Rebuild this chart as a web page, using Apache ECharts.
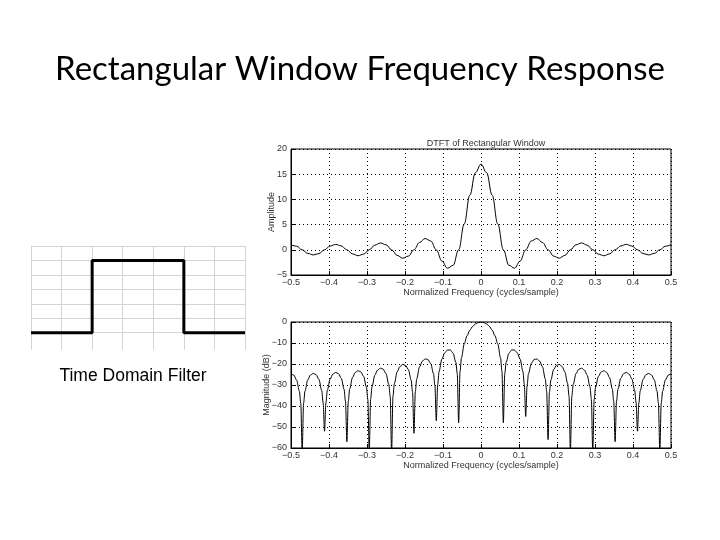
<!DOCTYPE html>
<html>
<head>
<meta charset="utf-8">
<script src="https://cdn.jsdelivr.net/npm/echarts@6/dist/echarts.min.js"></script>
<style>
html,body{margin:0;padding:0;background:#fff;}
#chart{width:720px;height:540px;}
</style>
</head>
<body>
<div id="chart"></div>
<script>
// ---- Time domain filter (rectangular pulse) ----
var timeX = [0, 2, 2, 5, 5, 7];
var timeY = [0, 0, 5, 5, 0, 0];
var timeGridRows = [0, 1, 2, 3, 4, 5, 6];

// ---- DTFT amplitude (top plot) ----
var ampFreq = [-0.5, -0.48529, -0.47059, -0.45588, -0.44118, -0.42647, -0.41176, -0.39706, -0.38235, -0.36765,
  -0.35294, -0.33824, -0.32353, -0.30882, -0.29412, -0.27941, -0.26471, -0.25, -0.23529, -0.22059,
  -0.20588, -0.19118, -0.17647, -0.16176, -0.14706, -0.13235, -0.11765, -0.10294, -0.08824, -0.07353,
  -0.05882, -0.04412, -0.02941, -0.01471, 0,
  0.01471, 0.02941, 0.04412, 0.05882, 0.07353, 0.08824, 0.10294, 0.11765, 0.13235, 0.14706,
  0.16176, 0.17647, 0.19118, 0.20588, 0.22059, 0.23529, 0.25, 0.26471, 0.27941, 0.29412,
  0.30882, 0.32353, 0.33824, 0.35294, 0.36765, 0.38235, 0.39706, 0.41176, 0.42647, 0.44118,
  0.45588, 0.47059, 0.48529, 0.5];
var ampValues = [1.00, 0.71, 0, -0.71, -1.02, -0.73, 0, 0.75, 1.07, 0.77,
  0, -0.81, -1.18, -0.86, 0, 0.92, 1.35, 1.00, 0, -1.11,
  -1.66, -1.25, 0, 1.45, 2.24, 1.75, 0, -2.23, -3.65, -3.09,
  0, 5.12, 10.84, 15.31, 17,
  15.31, 10.84, 5.12, 0, -3.09, -3.65, -2.23, 0, 1.75, 2.24,
  1.45, 0, -1.25, -1.66, -1.11, 0, 1.00, 1.35, 0.92, 0,
  -0.86, -1.18, -0.81, 0, 0.77, 1.07, 0.75, 0, -0.73, -1.02,
  -0.71, 0, 0.71, 1.00];

// ---- Magnitude in dB (bottom plot) ----
var dbFreq = [-0.5, -0.49265, -0.48529, -0.47794, -0.47426, -0.47059, -0.46691, -0.46324, -0.45588, -0.44853,
  -0.44118, -0.43382, -0.42647, -0.41912, -0.41544, -0.41176, -0.40809, -0.40441, -0.39706, -0.38971,
  -0.38235, -0.375, -0.36765, -0.36029, -0.35662, -0.35294, -0.34926, -0.34559, -0.33824, -0.33088,
  -0.32353, -0.31618, -0.30882, -0.30147, -0.29779, -0.29412, -0.29044, -0.28676, -0.27941, -0.27206,
  -0.26471, -0.25735, -0.25, -0.24265, -0.23897, -0.23529, -0.23162, -0.22794, -0.22059, -0.21324,
  -0.20588, -0.19853, -0.19118, -0.18382, -0.18015, -0.17647, -0.17279, -0.16912, -0.16176, -0.15441,
  -0.14706, -0.13971, -0.13235, -0.125, -0.12132, -0.11765, -0.11397, -0.11029, -0.10294, -0.09559,
  -0.08824, -0.08088, -0.07353, -0.06618, -0.0625, -0.05882, -0.05515, -0.05147, -0.04412, -0.03676,
  -0.02941, -0.02206, -0.01471, -0.00735, 0,
  0.00735, 0.01471, 0.02206, 0.02941, 0.03676, 0.04412, 0.05147, 0.05515, 0.05882, 0.0625,
  0.06618, 0.07353, 0.08088, 0.08824, 0.09559, 0.10294, 0.11029, 0.11397, 0.11765, 0.12132,
  0.125, 0.13235, 0.13971, 0.14706, 0.15441, 0.16176, 0.16912, 0.17279, 0.17647, 0.18015,
  0.18382, 0.19118, 0.19853, 0.20588, 0.21324, 0.22059, 0.22794, 0.23162, 0.23529, 0.23897,
  0.24265, 0.25, 0.25735, 0.26471, 0.27206, 0.27941, 0.28676, 0.29044, 0.29412, 0.29779,
  0.30147, 0.30882, 0.31618, 0.32353, 0.33088, 0.33824, 0.34559, 0.34926, 0.35294, 0.35662,
  0.36029, 0.36765, 0.375, 0.38235, 0.38971, 0.39706, 0.40441, 0.40809, 0.41176, 0.41544,
  0.41912, 0.42647, 0.43382, 0.44118, 0.44853, 0.45588, 0.46324, 0.46691, 0.47059, 0.47426,
  0.47794, 0.48529, 0.49265, 0.5];
var dbMag = [-24.61, -25.30, -27.61, -32.93,
  -38.78, -62, -38.76, -32.89, -27.54, -25.18, -24.46, -25.11, -27.39, -32.67,
  -38.49, -52, -38.44, -32.55, -27.16, -24.77, -24.00, -24.61, -26.85, -32.09,
  -37.89, -57, -37.79, -31.89, -26.45, -24.01, -23.20, -23.76, -25.95, -31.14,
  -36.92, -62, -36.77, -30.84, -25.34, -22.85, -21.98, -22.48, -24.61, -29.74,
  -35.48, -62, -35.26, -29.30, -23.73, -21.16, -20.21, -20.63, -22.66, -27.69,
  -33.39, -53, -33.06, -27.05, -21.36, -18.67, -17.59, -17.86, -19.75, -24.61,
  -30.21, -47, -29.69, -23.57, -17.66, -14.72, -13.35, -13.30, -14.81, -19.25,
  -24.59, -48, -23.53, -17.09, -10.43, -6.53, -3.91, -2.11, -0.91, -0.23,
  0,
  -0.23, -0.91, -2.11, -3.91, -6.53, -10.43, -17.09, -23.53, -48, -24.59,
  -19.25, -14.81, -13.30, -13.35, -14.72, -17.66, -23.57, -29.69, -45, -30.21,
  -24.61, -19.75, -17.86, -17.59, -18.67, -21.36, -27.05, -33.06, -56, -33.39,
  -27.69, -22.66, -20.63, -20.21, -21.16, -23.73, -29.30, -35.26, -62, -35.48,
  -29.74, -24.61, -22.48, -21.98, -22.85, -25.34, -30.84, -36.77, -62, -36.92,
  -31.14, -25.95, -23.76, -23.20, -24.01, -26.45, -31.89, -37.79, -57, -37.89,
  -32.09, -26.85, -24.61, -24.00, -24.77, -27.16, -32.55, -38.44, -52, -38.49,
  -32.67, -27.39, -25.11, -24.46, -25.18, -27.54, -32.89, -38.76, -62, -38.78,
  -32.93, -27.61, -25.30, -24.61];

// ---- text ----
var slideTitle = 'Rectangular Window Frequency Response';
var timeCaption = 'Time Domain Filter';
var topTitle = 'DTFT of Rectangular Window';
var freqLabel = 'Normalized Frequency (cycles/sample)';
var ampLabel = 'Amplitude';
var dbLabel = 'Magnitude (dB)';

function zip(a, b) { return a.map(function (v, i) { return [v, b[i]]; }); }
function fmtTick(v) {
  var s = String(Math.round(v * 100) / 100);
  return s.replace('-', '\u2212');
}

var plotFont = 'Liberation Sans';
var tickLabel = { fontSize: 9, color: '#333', fontFamily: plotFont, formatter: fmtTick };
var dotted = { show: true, lineStyle: { color: '#000', type: [1, 3], width: 1 } };
var axLine = { show: true, onZero: false, lineStyle: { color: '#000', width: 1 } };
var axTick = { show: true, inside: true, length: 4, lineStyle: { color: '#000' } };
var nameStyle = { fontSize: 9, color: '#333', fontFamily: plotFont };

var chart = echarts.init(document.getElementById('chart'), null, { renderer: 'canvas' });
chart.setOption({
  backgroundColor: '#fff',
  animation: false,
  title: [
    { text: slideTitle, left: 'center', top: 48,
      textStyle: { fontFamily: 'Lato', fontWeight: 'normal', fontSize: 33, color: '#000' } },
    { text: timeCaption, left: 128, textAlign: 'center', top: 362,
      textStyle: { fontFamily: 'Liberation Sans', fontWeight: 'normal', fontSize: 17.5, color: '#000' } },
    { text: topTitle, left: 481, textAlign: 'center', top: 134,
      textStyle: { fontFamily: plotFont, fontWeight: 'normal', fontSize: 9, color: '#333' } }
  ],
  grid: [
    { left: 31, top: 246, width: 214, height: 104, show: false },
    { left: 291, top: 149, width: 380, height: 126, show: true, borderColor: '#000', borderWidth: 1, backgroundColor: '#fff' },
    { left: 291, top: 322, width: 380, height: 126, show: true, borderColor: '#000', borderWidth: 1, backgroundColor: '#fff' }
  ],
  xAxis: [
    { gridIndex: 0, type: 'value', min: 0, max: 7, interval: 1,
      axisLine: { show: false }, axisTick: { show: false }, axisLabel: { show: false },
      splitLine: { show: true, lineStyle: { color: '#d4d4d4', width: 1 } } },
    { gridIndex: 1, type: 'value', min: -0.5, max: 0.5, interval: 0.1,
      axisLine: axLine, axisTick: axTick, axisLabel: Object.assign({ margin: 3 }, tickLabel), splitLine: dotted,
      name: freqLabel, nameLocation: 'middle', nameGap: 13, nameMoveOverlap: false, nameTextStyle: nameStyle },
    { gridIndex: 2, type: 'value', min: -0.5, max: 0.5, interval: 0.1,
      axisLine: axLine, axisTick: axTick, axisLabel: Object.assign({ margin: 3 }, tickLabel), splitLine: dotted,
      name: freqLabel, nameLocation: 'middle', nameGap: 13, nameMoveOverlap: false, nameTextStyle: nameStyle }
  ],
  yAxis: [
    { gridIndex: 0, type: 'value', min: -1.2, max: 6,
      axisLine: { show: false }, axisTick: { show: false }, axisLabel: { show: false }, splitLine: { show: false } },
    { gridIndex: 1, type: 'value', min: -5, max: 20, interval: 5,
      axisLine: axLine, axisTick: axTick, axisLabel: Object.assign({ margin: 4 }, tickLabel), splitLine: dotted,
      name: ampLabel, nameLocation: 'middle', nameGap: 15, nameRotate: 90, nameMoveOverlap: false, nameTextStyle: nameStyle },
    { gridIndex: 2, type: 'value', min: -60, max: 0, interval: 10,
      axisLine: axLine, axisTick: axTick, axisLabel: Object.assign({ margin: 4 }, tickLabel), splitLine: dotted,
      name: dbLabel, nameLocation: 'middle', nameGap: 20, nameRotate: 90, nameMoveOverlap: false, nameTextStyle: nameStyle }
  ],
  series: [
    { type: 'line', xAxisIndex: 0, yAxisIndex: 0, data: zip(timeX, timeY),
      showSymbol: false, lineStyle: { color: '#000', width: 3 }, silent: true,
      markLine: { silent: true, symbol: ['none', 'none'], label: { show: false },
        lineStyle: { color: '#d4d4d4', width: 1, type: 'solid' },
        data: timeGridRows.map(function (r) { return { yAxis: r }; }) },
      z: 5 },
    { type: 'line', xAxisIndex: 1, yAxisIndex: 1, data: zip(ampFreq, ampValues),
      showSymbol: false, smooth: 0.4, smoothMonotone: 'x', clip: true,
      lineStyle: { color: '#000', width: 1 }, silent: true },
    { type: 'line', xAxisIndex: 2, yAxisIndex: 2, data: zip(dbFreq, dbMag),
      showSymbol: false, smooth: 0.3, smoothMonotone: 'x', clip: true,
      lineStyle: { color: '#000', width: 1 }, silent: true }
  ]
});
</script>
</body>
</html>
